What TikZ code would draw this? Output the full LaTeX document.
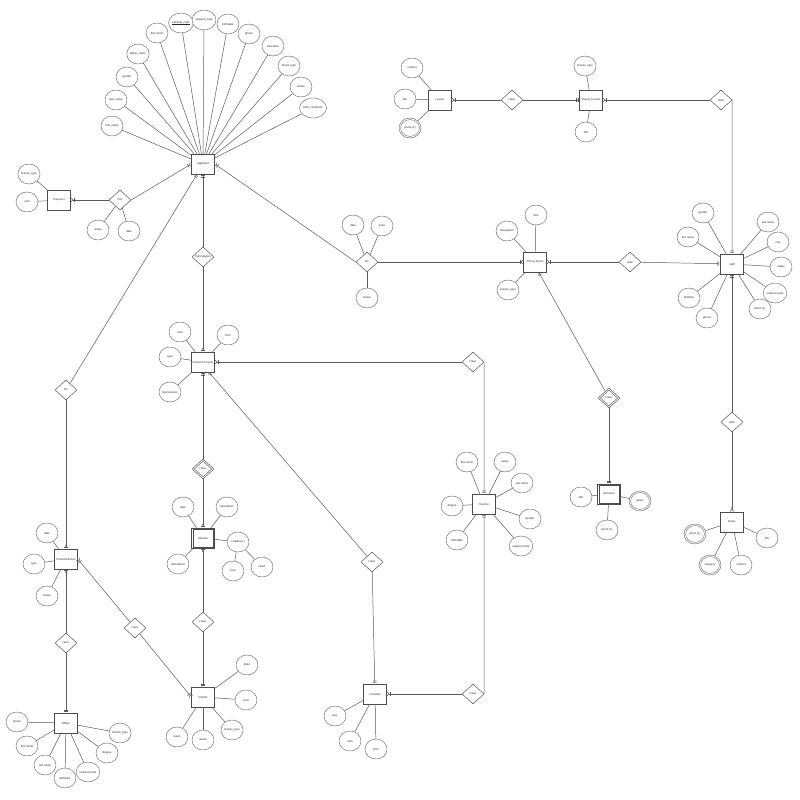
\documentclass[tikz,border=0pt]{standalone}
\usepackage{fontspec}
\setmainfont{Liberation Sans}
\usetikzlibrary{shapes.geometric,arrows.meta}
\tikzset{
  ent/.style={draw=black!70,line width=1.3pt,rectangle,minimum width=23mm,minimum height=20mm,inner sep=0pt,fill=white},
  weakent/.style={ent,path picture={\draw[black!70,line width=1.1pt]
      ([shift={(1.3mm,-1.3mm)}]path picture bounding box.north west) rectangle
      ([shift={(-1.3mm,1.3mm)}]path picture bounding box.south east);}},
  attr/.style={draw=black!60,line width=1.2pt,ellipse,minimum width=22mm,minimum height=20mm,inner sep=0pt,fill=white},
  multiattr/.style={attr,path picture={\draw[black!60,line width=1.1pt]
      (path picture bounding box.center) ellipse [x radius=9.4mm,y radius=8.4mm];}},
  rel/.style={draw=black!70,line width=1.3pt,diamond,minimum width=22mm,minimum height=20mm,inner sep=0pt,fill=white},
  idrel/.style={rel,path picture={\draw[black!70,line width=1.1pt]
      ([xshift=-8.6mm]path picture bounding box.center) -- ([yshift=7.8mm]path picture bounding box.center) --
      ([xshift=8.6mm]path picture bounding box.center) -- ([yshift=-7.8mm]path picture bounding box.center) -- cycle;}},
  link/.style={draw=black!65,line width=1.4pt},
  erone/.tip={Bar[width=4mm,sep=1mm] Bar[width=4mm,sep=1.2mm]},
  ermany/.tip={Bar[width=4mm,sep=0.6mm] Straight Barb[reversed,length=2mm,width=4mm]},
  erzone/.tip={Circle[open,fill=white,length=1.8mm,sep=0.4mm] Bar[width=4mm,sep=1mm]},
  erzmany/.tip={Circle[open,fill=white,length=1.8mm,sep=0.4mm] Straight Barb[reversed,length=2mm,width=4mm]},
}
\begin{document}
\begin{tikzpicture}[x=1mm,y=-1mm,every node/.style={font=\fontsize{8}{9}\selectfont,text=black!85}]
  \useasboundingbox[fill=white] (0,0) rectangle (800,800);

  % entities
  \node[ent] (applicant) at (203,164) {Applicant};
  \node[ent] (payment) at (59,200) {Payment};
  \node[ent] (lesson) at (440,100) {Lesson};
  \node[ent] (theorycourse) at (591,100) {Theory Course};
  \node[ent] (theoryexam) at (535,262) {Theory Exam};
  \node[ent] (staff) at (732,264) {staff};
  \node[ent] (news) at (732,522) {News};
  \node[ent] (practicalcourse) at (203,362) {Practical Course};
  \node[weakent] (session) at (203,538) {Session};
  \node[ent] (teacher) at (484,504) {Teacher};
  \node[weakent] (question) at (609,494) {Question};
  \node[ent] (practicalexam) at (66,559) {Practical Exam};
  \node[ent] (officer) at (66,723) {Officer};
  \node[ent] (vehicle) at (203,697) {Vehicle};
  \node[ent] (schedule) at (375,694) {schedule};

  % relationships
  \node[rel] (pay) at (120,200) {Pay};
  \node[rel] (participation) at (203,257) {Participation};
  \node[rel] (dotheory) at (367,262) {Do};
  \node[rel] (dopractical) at (66,390) {Do};
  \node[rel] (havelesson) at (512,100) {Have};
  \node[rel] (writecourse) at (721,100) {write};
  \node[rel] (writeexam) at (630,262) {write};
  \node[rel] (writenews) at (732,422) {write};
  \node[rel] (haveteacher) at (473,362) {Have};
  \node[idrel] (havesession) at (203,469) {Have};
  \node[idrel] (havequestion) at (609,398) {Have};
  \node[rel] (havevehicle) at (203,622) {Have};
  \node[rel] (haveschedule) at (372,562) {Have};
  \node[rel] (haveteaching) at (473,694) {Have};
  \node[rel] (haveofficer) at (66,643) {Have};
  \node[rel] (haveexam) at (135,628) {Have};

  % attributes
  \foreach \x/\y/\t in {112/126/first\_name,116/100/last\_name,127/77/gender,138/54/father\_name,
      157/33/first name,181/23/\underline{national\_code},204/20/national\_card,228/24/birthdate,
      249/34/phone,273/46/education,289/66/blood\_type,301/87/status,313/108/birth\_certificate}{
    \node[attr] (applicant-\x) at (\x,\y) {\t};
    \draw[link] (applicant-\x) -- (applicant);
  }
  \foreach \x/\y/\t in {29/174/license\_type,27/202/cost}{
    \node[attr] (payment-\x) at (\x,\y) {\t};
    \draw[link] (payment-\x) -- (payment);
  }
  \foreach \x/\y/\t in {98/230/status,129/231/date}{
    \node[attr] (pay-\x) at (\x,\y) {\t};
    \draw[link] (pay-\x) -- (pay);
  }
  \foreach \x/\y/\t in {412/68/content,405/99/title}{
    \node[attr] (lesson-\x) at (\x,\y) {\t};
    \draw[link] (lesson-\x) -- (lesson);
  }
  \node[multiattr] (lesson-photo) at (410,128) {photo (1)};
  \draw[link] (lesson-photo) -- (lesson);
  \foreach \x/\y/\t in {585/66/license\_type,586/132/title}{
    \node[attr] (theorycourse-\x) at (\x,\y) {\t};
    \draw[link] (theorycourse-\x) -- (theorycourse);
  }
  \foreach \x/\y/\t in {353/225/date,382/226/point,367/298/status}{
    \node[attr] (dotheory-\x) at (\x,\y) {\t};
    \draw[link] (dotheory-\x) -- (dotheory);
  }
  \foreach \x/\y/\t in {536/215/time,507/231/description,508/290/license\_type}{
    \node[attr] (theoryexam-\x) at (\x,\y) {\t};
    \draw[link] (theoryexam-\x) -- (theoryexam);
  }
  \foreach \x/\y/\t in {703/213/gender,768/222/last name,688/237/first name,778/242/role,
      781/267/salary,775/293/national code,760/309/photo (1),707/318/phone,689/298/birthday}{
    \node[attr] (staff-\x) at (\x,\y) {\t};
    \draw[link] (staff-\x) -- (staff);
  }
  \foreach \x/\y/\t in {767/538/title,741/565/content}{
    \node[attr] (news-\x) at (\x,\y) {\t};
    \draw[link] (news-\x) -- (news);
  }
  \foreach \x/\y/\t in {695/534/photo (1),710/565/category}{
    \node[multiattr] (news-\x) at (\x,\y) {\t};
    \draw[link] (news-\x) -- (news);
  }
  \foreach \x/\y/\t in {180/332/until,228/335/from,170/357/type,170/392/total session}{
    \node[attr] (practicalcourse-\x) at (\x,\y) {\t};
    \draw[link] (practicalcourse-\x) -- (practicalcourse);
  }
  \foreach \x/\y/\t in {183/507/date,227/507/description,178/564/attendance}{
    \node[attr] (session-\x) at (\x,\y) {\t};
    \draw[link] (session-\x) -- (session);
  }
  \node[attr] (address) at (238,542) {( address )};
  \draw[link] (address) -- (session);
  \foreach \x/\y/\t in {233/571/zone,262/567/street}{
    \node[attr] (address-\x) at (\x,\y) {\t};
    \draw[link] (address-\x) -- (address);
  }
  \foreach \x/\y/\t in {467/462/first name,505/462/salary,522/483/last name,452/506/degree,
      530/519/gender,457/540/birthdate,521/546/national code}{
    \node[attr] (teacher-\x) at (\x,\y) {\t};
    \draw[link] (teacher-\x) -- (teacher);
  }
  \foreach \x/\y/\t in {581/497/title,607/530/photo (1)}{
    \node[attr] (question-\x) at (\x,\y) {\t};
    \draw[link] (question-\x) -- (question);
  }
  \node[multiattr] (question-option) at (640,501) {option};
  \draw[link] (question-option) -- (question);
  \foreach \x/\y/\t in {47/533/date,34/564/type,47/596/status}{
    \node[attr] (practicalexam-\x) at (\x,\y) {\t};
    \draw[link] (practicalexam-\x) -- (practicalexam);
  }
  \foreach \x/\y/\t in {17/722/phone,27/746/first name,45/765/last name,65/778/birthdate,
      88/772/national code,107/753/degree,120/733/license\_type}{
    \node[attr] (officer-\x) at (\x,\y) {\t};
    \draw[link] (officer-\x) -- (officer);
  }
  \foreach \x/\y/\t in {247/665/plate,246/700/color,232/730/license\_type,177/737/name,203/740/status}{
    \node[attr] (vehicle-\x) at (\x,\y) {\t};
    \draw[link] (vehicle-\x) -- (vehicle);
  }
  \foreach \x/\y/\t in {335/716/day,350/741/until,376/749/from}{
    \node[attr] (schedule-\x) at (\x,\y) {\t};
    \draw[link] (schedule-\x) -- (schedule);
  }

  % relationship lines
  \draw[link,-ermany] (pay) -- (payment);
  \draw[link,-ermany] (pay.east) -- (applicant.west);
  \draw[link,-ermany] (dotheory.west) -- (applicant.east);
  \draw[link,-ermany] (dotheory.east) -- (theoryexam.west);
  \draw[link,erone-] (applicant.south) -- (participation);
  \draw[link,-erzone] (participation) -- (practicalcourse);
  \draw[link,erone-] (applicant.-120) -- (dopractical);
  \draw[link,-erzone] (dopractical) -- (practicalexam);
  \draw[link,-ermany] (havelesson) -- (lesson);
  \draw[link,-erone] (havelesson) -- (theorycourse);
  \draw[link,ermany-] (theorycourse) -- (writecourse);
  \draw[link,-erone] (writecourse.east) -- (staff.north);
  \draw[link,ermany-] (theoryexam) -- (writeexam);
  \draw[link,-erone] (writeexam) -- (staff);
  \draw[link,erone-] (staff.south) -- (writenews);
  \draw[link,-erzmany] (writenews) -- (news);
  \draw[link,erone-] (theoryexam.-70) -- (havequestion);
  \draw[link,-erone] (havequestion) -- (question);
  \draw[link,ermany-] (practicalcourse) -- (haveteacher);
  \draw[link,-erone] (haveteacher.east) -- (teacher.north);
  \draw[link,erone-] (practicalcourse.south) -- (havesession);
  \draw[link,-erzone] (havesession) -- (session);
  \draw[link,erzone-] (practicalcourse.-60) -- (haveschedule);
  \draw[link,-erone] (haveschedule) -- (schedule);
  \draw[link,erzone-] (session) -- (havevehicle);
  \draw[link,-erone] (havevehicle) -- (vehicle);
  \draw[link,erone-] (teacher.south) -- (haveteaching.east);
  \draw[link,-ermany] (haveteaching) -- (schedule);
  \draw[link,erzone-] (practicalexam) -- (haveofficer);
  \draw[link,-erone] (haveofficer) -- (officer);
  \draw[link,ermany-] (practicalexam.east) -- (haveexam);
  \draw[link,-ermany] (haveexam) -- (vehicle.west);
\end{tikzpicture}
\end{document}
